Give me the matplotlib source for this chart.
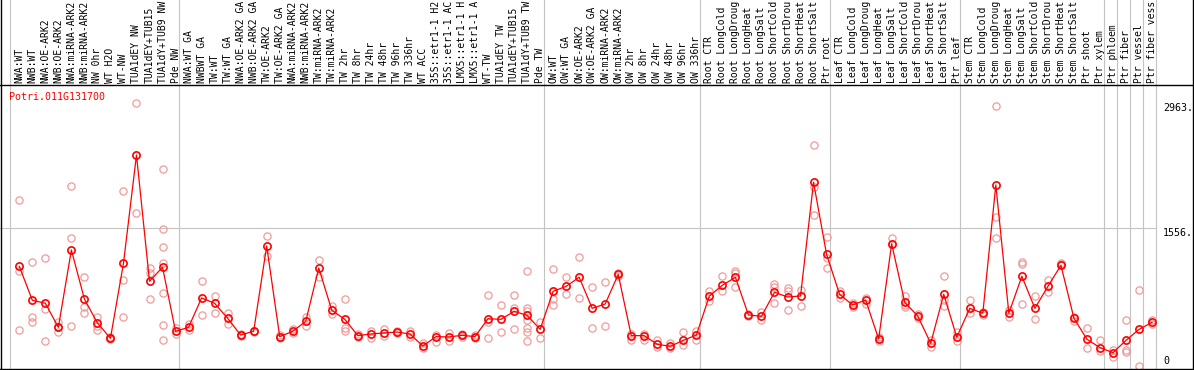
import matplotlib
matplotlib.use('Agg')
import matplotlib.pyplot as plt
from matplotlib.lines import Line2D
import matplotlib.transforms as mtransforms

gene = 'Potri.011G131700'

# labels as far as they show in the strip (14 characters at most)
labels = ['NWA:WT', 'NWB:WT', 'NWA:OE-ARK2', 'NWB:OE-ARK2', 'NWA:miRNA-ARK2', 'NWB:miRNA-ARK2',
          'NW 0hr', 'WT H2O', 'WT-NW', 'TUA1dEY NW', 'TUA1dEY+TUB15', 'TUA1dY+TUB9 NW', 'Pde NW',
          'NWA:WT GA', 'NWBWT GA', 'TW:WT', 'TW:WT GA', 'NWA:OE-ARK2 GA', 'NWB:OE-ARK2 GA',
          'TW:OE-ARK2', 'TW:OE-ARK2 GA', 'NWA:miRNA-ARK2', 'NWB:miRNA-ARK2', 'TW:miRNA-ARK2',
          'TW:miRNA-ARK2', 'TW 2hr', 'TW 8hr', 'TW 24hr', 'TW 48hr', 'TW 96hr', 'TW 336hr', 'WT ACC',
          '35S::etr1-1 H2', '35S::etr1-1 AC', 'LMX5::etr1-1 H', 'LMX5::etr1-1 A', 'WT-TW',
          'TUA1dEY TW', 'TUA1dEY+TUB15', 'TUA1dY+TUB9 TW', 'Pde TW',
          'OW:WT', 'OW:WT GA', 'OW:OE-ARK2', 'OW:OE-ARK2 GA', 'OW:miRNA-ARK2', 'OW:miRNA-ARK2',
          'OW 2hr', 'OW 8hr', 'OW 24hr', 'OW 48hr', 'OW 96hr', 'OW 336hr',
          'Root CTR', 'Root LongCold', 'Root LongDroug', 'Root LongHeat', 'Root LongSalt',
          'Root ShortCold', 'Root ShortDrou', 'Root ShortHeat', 'Root ShortSalt', 'Ptr root',
          'Leaf CTR', 'Leaf LongCold', 'Leaf LongDroug', 'Leaf LongHeat', 'Leaf LongSalt',
          'Leaf ShortCold', 'Leaf ShortDrou', 'Leaf ShortHeat', 'Leaf ShortSalt', 'Ptr leaf',
          'Stem CTR', 'Stem LongCold', 'Stem LongDroug', 'Stem LongHeat', 'Stem LongSalt',
          'Stem ShortCold', 'Stem ShortDrou', 'Stem ShortHeat', 'Stem ShortSalt', 'Ptr shoot',
          'Ptr xylem', 'Ptr phloem', 'Ptr fiber', 'Ptr vessel', 'Ptr fiber vess']

means = [1124, 741, 707, 436, 1308, 755, 485, 312, 1157, 2379, 955, 1113, 391,
         436, 767, 707, 538, 349, 391, 1353, 331, 391, 503, 1105, 628, 526, 342, 361, 372,
         383, 361, 225, 331, 327, 346, 331, 533, 526, 616, 571, 413,
         842, 898, 1000, 650, 699, 1033, 342, 342, 244, 222, 289, 349,
         789, 910, 1000, 575, 560, 831, 778, 789, 2071, 1259,
         808, 688, 744, 304, 1379, 718, 564, 256, 808, 324,
         650, 594, 2041, 594, 1011, 650, 898, 1135, 538, 301, 207,
         150, 289, 413, 492]

reps = [[1868, 1075, 402], [1172, 549, 500], [1218, 639, 282], [500, 436, 380],
        [2029, 1439, 451], [1000, 669, 593], [556, 455, 402], [330, 312, 300],
        [1969, 966, 549], [2963, 1721], [1101, 1052, 752],
        [2217, 1541, 1338, 1165, 819, 459, 297], [425, 357],
        [477, 406], [955, 571], [793, 594], [594, 477], [360, 340], [400, 380],
        [1466, 1240], [349, 320], [420, 370], [549, 455], [1195, 1007], [673, 583],
        [755, 425, 395], [357, 327], [398, 312], [417, 338], [395, 372], [398, 324],
        [263, 199], [353, 274], [368, 282], [360, 330], [350, 315], [797, 500, 312],
        [684, 380], [797, 650, 417], [1071, 658, 624, 515, 432, 383, 285], [500, 312],
        [1090, 752, 688], [1000, 808], [1225, 763], [887, 425], [943, 451], [1050, 1020],
        [357, 297], [357, 297], [293, 211], [263, 199], [383, 237], [395, 293],
        [849, 737], [1011, 842], [1075, 1050, 887], [590, 560], [612, 519],
        [921, 895, 707], [876, 846, 628], [860, 676], [2488, 2021, 1699], [1458, 1214, 1101],
        [849, 763], [715, 660], [770, 696], [330, 280], [1439, 1372], [789, 688, 670],
        [590, 540], [293, 218], [1015, 744, 676], [387, 285],
        [744, 601], [610, 580], [2930, 1684, 1439], [632, 556], [1176, 1150, 699],
        [789, 526], [969, 838], [1160, 1145], [556, 508], [425, 199], [293, 169],
        [180, 105], [515, 180, 161], [853, 0], [515, 470]]

group_edges = [0, 13, 41, 53, 63, 73, 84, 85, 86, 87, 88]
grid_value = 1556
scale_labels = ['2963.', '1556.', '0']
scale_values = [2963, 1556, 0]

mono = 'DejaVu Sans Mono'
grey = '#c4c4c4'

W, H = 1194, 370
fig = plt.figure(figsize=(W / 100, H / 100), dpi=100)
ax = fig.add_axes([0, 1 / H, 1, 284 / H])
ax.set_xlim(-1.482, 90.22)
ax.set_ylim(-34, 3168)
ax.set_xticks([])
ax.set_yticks([])
for s in ['left', 'right']:
    ax.spines[s].set_visible(False)
for s in ['top', 'bottom']:
    ax.spines[s].set_linewidth(1.0)

# group separators run up through the label strip
off = 0.715
for k in group_edges:
    ax.axvline(k - off, ymin=0, ymax=370 / 284, color=grey, lw=0.8, clip_on=False, zorder=1)
ax.hlines(grid_value, -2, group_edges[-1] - off, color=grey, lw=0.8, zorder=1)

# replicates
for i, r in enumerate(reps):
    ax.plot([i] * len(r), r, 'o', ms=5.2, mfc='none', mec='#f09a9a', mew=0.9, zorder=2, clip_on=False)

x = list(range(len(means)))
ax.plot(x, means, '-', color='red', lw=0.9, zorder=3)
ax.plot(x, means, 'o', ms=5.2, mfc='none', mec='red', mew=1.2, zorder=4)

for i, lab in enumerate(labels):
    ax.annotate(lab, xy=(i, 1), xycoords=('data', 'axes fraction'), xytext=(0, 1.2),
                textcoords='offset points', rotation=90, ha='center', va='bottom',
                fontsize=7.0, family=mono, annotation_clip=False)

tr = mtransforms.blended_transform_factory(fig.transFigure, ax.transData)
for lab, v in zip(scale_labels, scale_values):
    ax.text(1163 / W, v, lab, transform=tr, fontsize=7.2, family=mono,
            ha='left', va='bottom' if v == 0 else 'top')

fig.text(9 / W, 1 - 97 / H, gene, color='red', fontsize=7.2, family=mono, va='center', ha='left')

for px in [1.0, 1192.5]:
    fig.add_artist(Line2D([px / W, px / W], [0, 1], transform=fig.transFigure, color='black', lw=1.0))

fig.savefig('out.png', dpi=100)
